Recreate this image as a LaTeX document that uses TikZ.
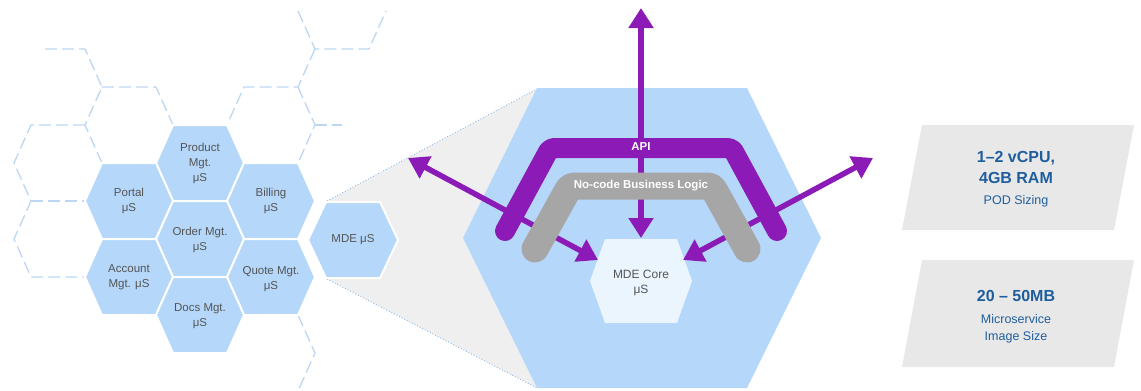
\documentclass[tikz,border=0pt]{standalone}
\usepackage{fontspec}
\setmainfont{Liberation Sans}
\usepackage{tikz}
\usetikzlibrary{arrows.meta}
\definecolor{cellblue}{HTML}{B4D7FA}
\definecolor{ghostblue}{HTML}{BDD7F3}
\definecolor{zoomblue}{HTML}{8FB9E6}
\definecolor{corewhite}{HTML}{EBF5FE}
\definecolor{apipurple}{HTML}{8B1AB6}
\definecolor{logicgray}{HTML}{A6A6A6}
\definecolor{wedgegray}{HTML}{EFEFEF}
\definecolor{panelgray}{HTML}{E8E8E8}
\definecolor{labelgray}{HTML}{555555}
\definecolor{statblue}{HTML}{1F5E9C}
\newcommand{\hexshape}[5]{(#1+#3,#2) -- (#1+#4,#2+#5) -- (#1-#4,#2+#5) -- (#1-#3,#2) -- (#1-#4,#2-#5) -- (#1+#4,#2-#5) -- cycle}
\tikzset{
  cell/.style={fill=cellblue,draw=white,line width=2pt},
  ghost/.style={draw=ghostblue,line width=1.3pt,dash pattern=on 12pt off 5pt},
  zoomline/.style={draw=zoomblue,line width=0.9pt,dotted},
  celltext/.style={text=labelgray,align=center,font=\fontsize{11.5}{15}\selectfont},
  link/.style={draw=apipurple,line width=5.5pt,{Triangle[width=24pt,length=20pt]}-{Triangle[width=24pt,length=20pt]}},
  apiband/.style={draw=apipurple,line width=20pt,line cap=round,line join=round,rounded corners=4pt},
  logicband/.style={draw=logicgray,line width=27pt,line cap=round,line join=round,rounded corners=4pt},
  bandtext/.style={text=white,font=\bfseries\fontsize{11.5}{14}\selectfont},
  panel/.style={fill=panelgray},
  stat/.style={text=statblue,align=center,font=\bfseries\fontsize{16}{21}\selectfont},
  statnote/.style={text=statblue,align=center,font=\fontsize{12.5}{17}\selectfont}
}
\begin{document}
\begin{tikzpicture}[x=1pt,y=-1pt]
\useasboundingbox (0,0) rectangle (1141,391);
\draw[ghost] (45,49) -- (85,49) -- (102,87) -- (85,125) -- (102,163);
\draw[ghost] (102,87) -- (156,87) -- (173,125);
\draw[ghost] (85,125) -- (31,125) -- (14,163) -- (31,201) -- (14,239) -- (31,277) -- (85,277);
\draw[ghost] (31,201) -- (85,201);
\draw[ghost] (298,11) -- (315,49) -- (369,49) -- (386,11);
\draw[ghost] (315,49) -- (298,87) -- (244,87) -- (227,125);
\draw[ghost] (298,87) -- (315,125) -- (298,163);
\draw[ghost] (315,125) -- (342,125);
\draw[ghost] (298,315) -- (315,353) -- (298,391);
\foreach \cx/\cy in {200/163,129/201,271/201,200/239,129/277,271/277,200/315}
  \filldraw[cell] \hexshape{\cx}{\cy}{44}{27}{38};
\fill[wedgegray] (327,201) -- (537,89) -- (463,238) -- (537,388) -- (327,279) -- cycle;
\draw[zoomline] (327,201) -- (537,89);
\draw[zoomline] (327,279) -- (537,388);
\filldraw[cell] \hexshape{353}{240}{45}{27}{38};
\fill[cellblue] \hexshape{642}{238}{179}{105}{150};
\fill[corewhite] \hexshape{641}{281}{51}{36}{42};
\coordinate (inT) at (641,238);
\coordinate (inL) at (598,260);
\coordinate (inR) at (683,260);
\coordinate (outT) at (641,8);
\coordinate (outL) at (408,158);
\coordinate (outR) at (873,158);
\draw[link] (inT) -- (outT);
\draw[link] (inL) -- (outL);
\draw[link] (inR) -- (outR);
\draw[apiband] (505,231) -- (550,148) -- (732,148) -- (777,231);
\draw[logicband] (535,249) -- (570,186) -- (712,186) -- (747,249);
\node[bandtext] (api) at (641,147) {API};
\node[bandtext] (logic) at (641,186) {No-code Business Logic};
\node[celltext] (product) at (200,163) {Product\\Mgt.\\μS};
\node[celltext] (portal) at (129,201) {Portal\\μS};
\node[celltext] (billing) at (271,201) {Billing\\μS};
\node[celltext] (order) at (200,240) {Order Mgt.\\μS};
\node[celltext] (account) at (129,277) {Account\\Mgt. μS};
\node[celltext] (quote) at (271,279) {Quote Mgt.\\μS};
\node[celltext] (docs) at (200,316) {Docs Mgt.\\μS};
\node[celltext] (mde) at (353,240) {MDE μS};
\node[celltext,font=\fontsize{12}{15}\selectfont] (core) at (641,283) {MDE Core\\μS};
\fill[panel] (902,230) -- (1114,230) -- (1134,125) -- (922,125) -- cycle;
\fill[panel] (902,367) -- (1114,367) -- (1134,260) -- (922,260) -- cycle;
\node[stat] (cpu) at (1016,167) {1–2 vCPU,\\4GB RAM};
\node[statnote] (pod) at (1016,201) {POD Sizing};
\node[stat] (size) at (1016,296) {20 – 50MB};
\node[statnote] (image) at (1016,329) {Microservice\\Image Size};
\end{tikzpicture}
\end{document}
